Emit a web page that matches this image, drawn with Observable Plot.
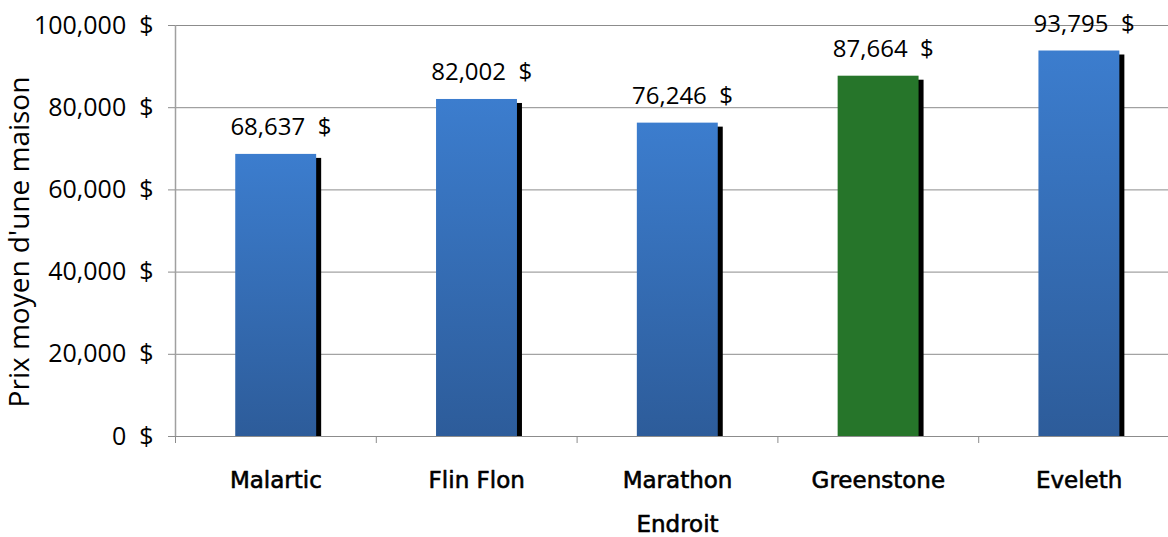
<!DOCTYPE html>
<html>
<head>
<meta charset="utf-8">
<script src="https://cdn.jsdelivr.net/npm/d3@7"></script>
<script src="https://cdn.jsdelivr.net/npm/@observablehq/plot@0.6"></script>
<style>
  html, body { margin: 0; padding: 0; background: #fff; overflow: hidden; }
</style>
</head>
<body>
<div id="chart"></div>
<script>
// Prix moyen d'une maison par endroit
const categories = ["Malartic", "Flin Flon", "Marathon", "Greenstone", "Eveleth"];
const prices = [68637, 82002, 76246, 87664, 93795];
const highlighted = "Greenstone";
const yTicks = [0, 20000, 40000, 60000, 80000, 100000];
const xTitle = "Endroit";
const yTitle = "Prix moyen d'une maison";

const rows = categories.map((name, i) => ({ name, i, price: prices[i] }));
const edges = [0, ...categories.map((_, i) => i + 1)];

const fmtMoney = d3.format(",");
const grey = "#8c8c8c";
const labelFont = "'DejaVu Sans', sans-serif";

// vertical gradient shared by the blue bars
const gradientDefs = () => {
  const defs = d3.create("svg:defs");
  const g = defs.append("linearGradient")
    .attr("id", "blueBar")
    .attr("x1", 0).attr("y1", 0).attr("x2", 0).attr("y2", 1);
  g.append("stop").attr("offset", "0%").attr("stop-color", "#3c7dce");
  g.append("stop").attr("offset", "100%").attr("stop-color", "#2d5c9a");
  return defs.node();
};

// medium-weight category text (regular face with a thin outline)
const medium = { fontFamily: labelFont, fontSize: 23, fill: "#000", stroke: "#000", strokeWidth: 0.6 };

const chart = Plot.plot({
  width: 1168,
  height: 537,
  marginLeft: 175,
  marginRight: 0,
  marginTop: 25,
  marginBottom: 101,
  style: { background: "#fff", color: "#000", fontFamily: "'Open Sans', sans-serif", overflow: "hidden" },
  x: { domain: [0, categories.length], range: [175, 1179], axis: null },
  y: { domain: [0, 100000], range: [436, 25], axis: null },
  marks: [
    gradientDefs,
    Plot.gridY(yTicks, { stroke: grey, strokeOpacity: 1 }),
    Plot.ruleX([0], { stroke: "#a0a0a0", strokeWidth: 1.5 }),
    // drop shadow behind each bar
    Plot.rectY(rows, {
      x1: d => d.i + 0.3, x2: d => d.i + 0.703, y: "price",
      fill: "#000", dx: 5, dy: 4, clip: true
    }),
    Plot.rectY(rows, {
      x1: d => d.i + 0.3, x2: d => d.i + 0.703, y: "price",
      fill: d => d.name === highlighted ? "#26752a" : "url(#blueBar)"
    }),
    Plot.ruleY([0], { stroke: grey }),
    Plot.axisY(yTicks, {
      tickSize: 7, tickPadding: 15, stroke: grey,
      tickFormat: d => fmtMoney(d) + "  $",
      fontSize: 25, fill: "#000", label: null
    }),
    Plot.axisX(edges, {
      tickSize: 7, stroke: grey, tickFormat: () => "", label: null
    }),
    Plot.text(rows, {
      x: d => d.i + 0.5, y: "price", dy: -27, dx: 5,
      text: d => fmtMoney(d.price) + "  $",
      fontSize: 24, fill: "#000"
    }),
    Plot.text(rows, {
      x: d => d.i + 0.5, y: 0, dy: 44, text: "name", ...medium
    }),
    Plot.text([xTitle], {
      x: categories.length / 2, y: 0, dy: 88, ...medium
    }),
    Plot.text([yTitle], {
      frameAnchor: "left", textAnchor: "middle", dx: -155, dy: 11, rotate: -90,
      fontSize: 28, fill: "#000"
    })
  ]
});

document.getElementById("chart").append(chart);
</script>
</body>
</html>
